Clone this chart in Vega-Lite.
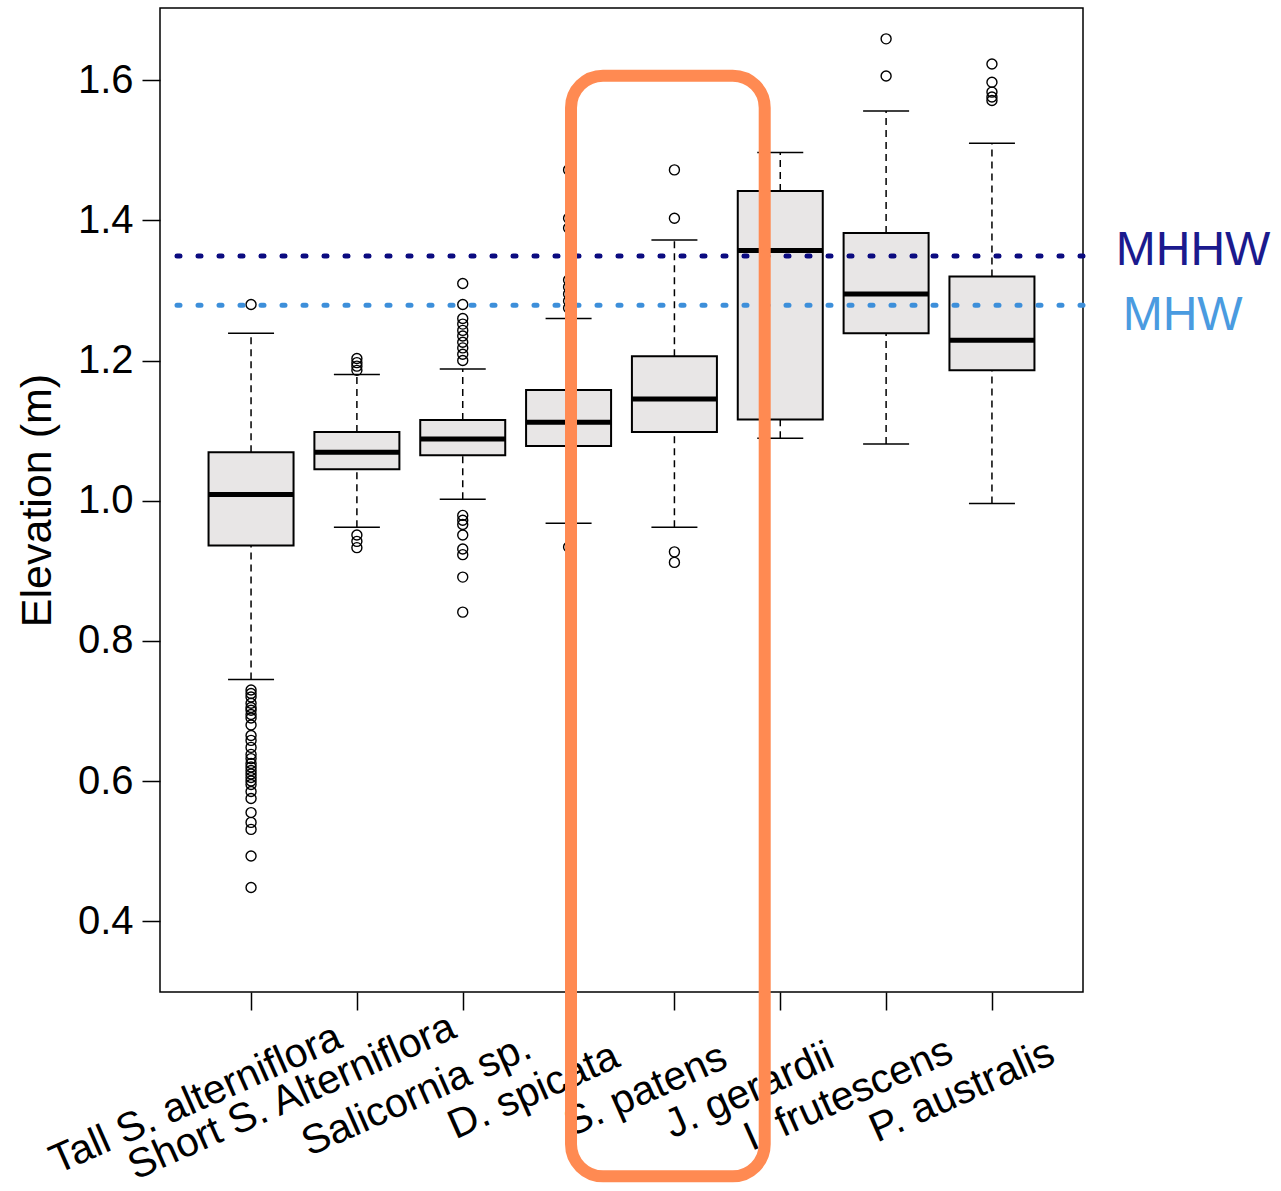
{
  "$schema": "https://vega.github.io/schema/vega-lite/v6.json",
  "width": 923,
  "height": 984,
  "autosize": {"type": "none"},
  "padding": {"left": 160, "top": 8, "right": 198, "bottom": 199},
  "background": "white",
  "config": {
    "view": {"stroke": "black", "strokeWidth": 1.5},
    "font": "Liberation Sans"
  },
  "datasets": {
    "boxes": [
      {"i": 1, "species": "Tall S. alterniflora", "lo": 0.745, "q1": 0.936, "median": 1.009, "q3": 1.069, "hi": 1.239},
      {"i": 2, "species": "Short S. Alterniflora", "lo": 0.962, "q1": 1.045, "median": 1.069, "q3": 1.098, "hi": 1.180},
      {"i": 3, "species": "Salicornia sp.", "lo": 1.002, "q1": 1.065, "median": 1.088, "q3": 1.115, "hi": 1.188},
      {"i": 4, "species": "D. spicata", "lo": 0.968, "q1": 1.078, "median": 1.112, "q3": 1.158, "hi": 1.260},
      {"i": 5, "species": "S. patens", "lo": 0.962, "q1": 1.098, "median": 1.145, "q3": 1.206, "hi": 1.372},
      {"i": 6, "species": "J. gerardii", "lo": 1.089, "q1": 1.116, "median": 1.357, "q3": 1.442, "hi": 1.497},
      {"i": 7, "species": "I. frutescens", "lo": 1.081, "q1": 1.239, "median": 1.295, "q3": 1.382, "hi": 1.556},
      {"i": 8, "species": "P. australis", "lo": 0.996, "q1": 1.186, "median": 1.229, "q3": 1.320, "hi": 1.510}
    ],
    "outliers": [
      {"i": 1, "v": 1.280}, {"i": 1, "v": 0.730}, {"i": 1, "v": 0.725}, {"i": 1, "v": 0.720}, {"i": 1, "v": 0.711},
      {"i": 1, "v": 0.705}, {"i": 1, "v": 0.701}, {"i": 1, "v": 0.695}, {"i": 1, "v": 0.690}, {"i": 1, "v": 0.680},
      {"i": 1, "v": 0.665}, {"i": 1, "v": 0.658}, {"i": 1, "v": 0.648}, {"i": 1, "v": 0.638}, {"i": 1, "v": 0.632},
      {"i": 1, "v": 0.625}, {"i": 1, "v": 0.620}, {"i": 1, "v": 0.615}, {"i": 1, "v": 0.610}, {"i": 1, "v": 0.605},
      {"i": 1, "v": 0.600}, {"i": 1, "v": 0.595}, {"i": 1, "v": 0.585}, {"i": 1, "v": 0.575}, {"i": 1, "v": 0.555},
      {"i": 1, "v": 0.541}, {"i": 1, "v": 0.531}, {"i": 1, "v": 0.493}, {"i": 1, "v": 0.448},
      {"i": 2, "v": 1.203}, {"i": 2, "v": 1.197}, {"i": 2, "v": 1.192}, {"i": 2, "v": 1.186},
      {"i": 2, "v": 0.951}, {"i": 2, "v": 0.942}, {"i": 2, "v": 0.933},
      {"i": 3, "v": 1.310}, {"i": 3, "v": 1.280}, {"i": 3, "v": 1.260}, {"i": 3, "v": 1.252}, {"i": 3, "v": 1.243},
      {"i": 3, "v": 1.235}, {"i": 3, "v": 1.226}, {"i": 3, "v": 1.218}, {"i": 3, "v": 1.209}, {"i": 3, "v": 1.200},
      {"i": 3, "v": 0.979}, {"i": 3, "v": 0.972}, {"i": 3, "v": 0.966}, {"i": 3, "v": 0.951}, {"i": 3, "v": 0.931},
      {"i": 3, "v": 0.923}, {"i": 3, "v": 0.891}, {"i": 3, "v": 0.841},
      {"i": 4, "v": 1.472}, {"i": 4, "v": 1.403}, {"i": 4, "v": 1.389}, {"i": 4, "v": 1.315}, {"i": 4, "v": 1.305},
      {"i": 4, "v": 1.295}, {"i": 4, "v": 1.285}, {"i": 4, "v": 1.275}, {"i": 4, "v": 0.934},
      {"i": 5, "v": 1.472}, {"i": 5, "v": 1.403}, {"i": 5, "v": 0.927}, {"i": 5, "v": 0.912},
      {"i": 7, "v": 1.659}, {"i": 7, "v": 1.606},
      {"i": 8, "v": 1.623}, {"i": 8, "v": 1.597}, {"i": 8, "v": 1.583}, {"i": 8, "v": 1.576}, {"i": 8, "v": 1.571}
    ],
    "levels": [
      {"name": "MHHW", "value": 1.349},
      {"name": "MHW", "value": 1.279}
    ]
  },
  "layer": [
    {
      "data": {"name": "boxes"},
      "mark": {"type": "rule", "strokeDash": [7, 5], "strokeWidth": 1.5, "color": "black"},
      "encoding": {
        "x": {
          "field": "i", "type": "quantitative",
          "scale": {"domain": [0.187, 8.813], "nice": false, "zero": false},
          "axis": {
            "values": [1, 2, 3, 4, 5, 6, 7, 8],
            "labelExpr": "['Tall S. alterniflora','Short S. Alterniflora','Salicornia sp.','D. spicata','S. patens','J. gerardii','I. frutescens','P. australis'][datum.value-1]",
            "title": null, "grid": false, "domain": false,
            "tickSize": 18, "tickColor": "black", "tickWidth": 1.5,
            "labelAngle": -24, "labelAlign": "right", "labelBaseline": "middle",
            "labelOffset": {
              "condition": [
                {"test": "datum.value == 1", "value": 88},
                {"test": "datum.value == 2", "value": 96},
                {"test": "datum.value == 3", "value": 66},
                {"test": "datum.value == 4", "value": 48},
                {"test": "datum.value == 5", "value": 50},
                {"test": "datum.value == 6", "value": 51},
                {"test": "datum.value == 7", "value": 64}
              ],
              "value": 60
            },
            "labelPadding": {
              "condition": [
                {"test": "datum.value == 1", "value": 25},
                {"test": "datum.value == 2", "value": 15},
                {"test": "datum.value == 3", "value": 35},
                {"test": "datum.value == 4", "value": 44},
                {"test": "datum.value == 5", "value": 45},
                {"test": "datum.value == 6", "value": 44},
                {"test": "datum.value == 7", "value": 39}
              ],
              "value": 41
            },
            "labelFontSize": 41, "labelColor": "black",
            "labelFlush": false, "labelOverlap": false, "labelBound": false, "labelLimit": 0
          }
        },
        "y": {
          "field": "lo", "type": "quantitative",
          "scale": {"domain": [0.299, 1.703], "nice": false, "zero": false},
          "axis": {
            "values": [0.4, 0.6, 0.8, 1.0, 1.2, 1.4, 1.6], "format": ".1f",
            "title": "Elevation (m)", "titleFontSize": 43, "titleFontWeight": "normal", "titleColor": "black",
            "titlePadding": 18,
            "grid": false, "domain": false,
            "tickSize": 18, "tickColor": "black", "tickWidth": 1.5,
            "labelPadding": 9, "labelFontSize": 40, "labelColor": "black"
          }
        },
        "y2": {"field": "q1"}
      }
    },
    {
      "data": {"name": "boxes"},
      "mark": {"type": "rule", "strokeDash": [7, 5], "strokeWidth": 1.5, "color": "black"},
      "encoding": {
        "x": {"field": "i", "type": "quantitative"},
        "y": {"field": "q3", "type": "quantitative"},
        "y2": {"field": "hi"}
      }
    },
    {
      "data": {"name": "boxes"},
      "mark": {"type": "tick", "orient": "horizontal", "size": 46, "thickness": 1.5, "color": "black", "opacity": 1},
      "encoding": {
        "x": {"field": "i", "type": "quantitative"},
        "y": {"field": "lo", "type": "quantitative"}
      }
    },
    {
      "data": {"name": "boxes"},
      "mark": {"type": "tick", "orient": "horizontal", "size": 46, "thickness": 1.5, "color": "black", "opacity": 1},
      "encoding": {
        "x": {"field": "i", "type": "quantitative"},
        "y": {"field": "hi", "type": "quantitative"}
      }
    },
    {
      "data": {"name": "boxes"},
      "mark": {"type": "bar", "width": 85, "fill": "#E8E6E6", "stroke": "black", "strokeWidth": 2, "opacity": 1},
      "encoding": {
        "x": {"field": "i", "type": "quantitative"},
        "y": {"field": "q1", "type": "quantitative"},
        "y2": {"field": "q3"}
      }
    },
    {
      "data": {"name": "boxes"},
      "mark": {"type": "tick", "orient": "horizontal", "size": 85, "thickness": 5, "color": "black", "opacity": 1},
      "encoding": {
        "x": {"field": "i", "type": "quantitative"},
        "y": {"field": "median", "type": "quantitative"}
      }
    },
    {
      "data": {"name": "outliers"},
      "mark": {"type": "point", "shape": "circle", "size": 100, "filled": false, "stroke": "black", "strokeWidth": 1.4, "opacity": 1},
      "encoding": {
        "x": {"field": "i", "type": "quantitative"},
        "y": {"field": "v", "type": "quantitative"}
      }
    },
    {
      "data": {"name": "levels"},
      "transform": [{"filter": "datum.name == 'MHHW'"}],
      "mark": {"type": "rule", "color": "#0B0B80", "strokeWidth": 5, "strokeDash": [3, 18], "strokeCap": "round"},
      "encoding": {"y": {"field": "value", "type": "quantitative"}}
    },
    {
      "data": {"name": "levels"},
      "transform": [{"filter": "datum.name == 'MHW'"}],
      "mark": {"type": "rule", "color": "#3D8FDA", "strokeWidth": 5, "strokeDash": [3, 18], "strokeCap": "round"},
      "encoding": {"y": {"field": "value", "type": "quantitative"}}
    },
    {
      "data": {"name": "levels"},
      "transform": [{"filter": "datum.name == 'MHHW'"}],
      "mark": {"type": "text", "align": "left", "baseline": "middle", "fontSize": 48, "color": "#1B1A8E", "dy": -5},
      "encoding": {
        "x": {"datum": 9.17},
        "y": {"field": "value", "type": "quantitative"},
        "text": {"field": "name"}
      }
    },
    {
      "data": {"name": "levels"},
      "transform": [{"filter": "datum.name == 'MHW'"}],
      "mark": {"type": "text", "align": "left", "baseline": "middle", "fontSize": 48, "color": "#4A9BE0", "dy": 11},
      "encoding": {
        "x": {"datum": 9.235},
        "y": {"field": "value", "type": "quantitative"},
        "text": {"field": "name"}
      }
    },
    {
      "data": {"values": [{"note": "highlight"}]},
      "mark": {"type": "rect", "fill": null, "fillOpacity": 0, "stroke": "#FF8A52", "strokeWidth": 12, "cornerRadius": 32, "clip": false},
      "encoding": {
        "x": {"datum": 4.023},
        "x2": {"datum": 5.853},
        "y": {"datum": 1.6064},
        "y2": {"datum": 0.036}
      }
    }
  ]
}
